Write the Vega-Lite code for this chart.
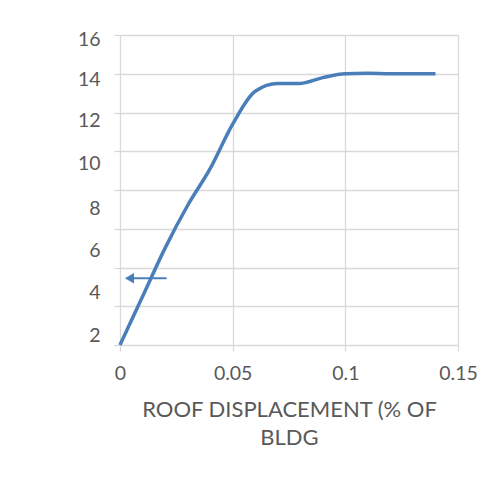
{
  "$schema": "https://vega.github.io/schema/vega-lite/v6.json",
  "autosize": "none",
  "width": 338,
  "height": 310,
  "padding": {"left": 120, "top": 35, "right": 39, "bottom": 136},
  "background": "white",
  "config": {
    "view": {"stroke": null},
    "font": "Lato",
    "axis": {
      "gridColor": "#d9d9d9",
      "gridWidth": 1.3,
      "tickColor": "#d9d9d9",
      "tickWidth": 1.3,
      "tickSize": 6,
      "domain": false,
      "labelColor": "#595959",
      "labelFont": "Lato",
      "labelFontSize": 19.5,
      "labelOverlap": false,
      "titleColor": "#595959",
      "titleFont": "Lato",
      "titleFontSize": 22,
      "titleFontWeight": "normal"
    }
  },
  "data": {
    "values": [
      {"series": "curve", "disp": 0.0, "shear": 0.0},
      {"series": "curve", "disp": 0.01, "shear": 2.5},
      {"series": "curve", "disp": 0.02, "shear": 5.0},
      {"series": "curve", "disp": 0.03, "shear": 7.2},
      {"series": "curve", "disp": 0.04, "shear": 9.1},
      {"series": "curve", "disp": 0.05, "shear": 11.4},
      {"series": "curve", "disp": 0.06, "shear": 13.1},
      {"series": "curve", "disp": 0.07, "shear": 13.5},
      {"series": "curve", "disp": 0.08, "shear": 13.5},
      {"series": "curve", "disp": 0.09, "shear": 13.8},
      {"series": "curve", "disp": 0.1, "shear": 14.0},
      {"series": "curve", "disp": 0.11, "shear": 14.02},
      {"series": "curve", "disp": 0.12, "shear": 14.0},
      {"series": "curve", "disp": 0.13, "shear": 14.0},
      {"series": "curve", "disp": 0.14, "shear": 14.0},
      {"series": "arrow", "disp": 0.0055, "disp_end": 0.0207, "tip": 0.0042, "shear": 3.44}
    ]
  },
  "encoding": {
    "x": {
      "field": "disp",
      "type": "quantitative",
      "scale": {"domain": [0, 0.15], "nice": false, "zero": false},
      "axis": {
        "values": [0, 0.05, 0.1, 0.15],
        "labelExpr": "format(datum.value, '~g')",
        "labelPadding": 13,
        "labelFlush": false,
        "title": ["ROOF DISPLACEMENT (% OF", "BLDG"],
        "titlePadding": 17,
        "titleLineHeight": 28
      }
    },
    "y": {
      "field": "shear",
      "type": "quantitative",
      "scale": {"domain": [0, 16], "nice": false},
      "axis": {
        "values": [0, 2, 4, 6, 8, 10, 12, 14, 16],
        "title": null,
        "labelPadding": 14,
        "labelOverlap": false,
        "labelBound": false,
        "labelExpr": "datum.value == 0 ? '' : datum.label",
        "labelOffset": {
          "condition": [
            {"test": "datum.value == 2", "value": 29},
            {"test": "datum.value == 4", "value": 25},
            {"test": "datum.value == 6", "value": 22},
            {"test": "datum.value == 8", "value": 18},
            {"test": "datum.value == 10", "value": 12},
            {"test": "datum.value == 12", "value": 8},
            {"test": "datum.value == 14", "value": 6}
          ],
          "value": 4
        }
      }
    }
  },
  "layer": [
    {
      "transform": [{"filter": "datum.series == 'curve'"}],
      "mark": {"type": "line", "interpolate": "monotone", "color": "#4a7ebb", "strokeWidth": 3.5, "strokeCap": "butt"}
    },
    {
      "transform": [{"filter": "datum.series == 'arrow'"}],
      "mark": {"type": "rule", "color": "#4a7ebb", "strokeWidth": 2},
      "encoding": {
        "x2": {"field": "disp_end"}
      }
    },
    {
      "transform": [{"filter": "datum.series == 'arrow'"}],
      "mark": {"type": "point", "shape": "triangle-left", "filled": true, "color": "#4a7ebb", "opacity": 1, "size": 110},
      "encoding": {
        "x": {"field": "tip", "type": "quantitative"}
      }
    }
  ]
}
